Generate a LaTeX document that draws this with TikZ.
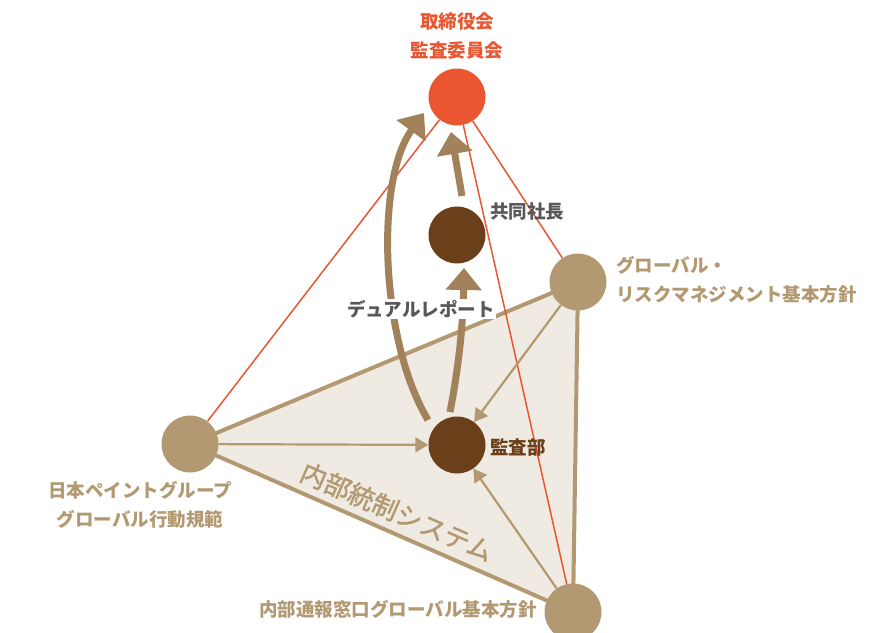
\documentclass[tikz,border=0pt]{standalone}
\usepackage{fontspec}
\setmainfont{Noto Sans CJK JP}
\newfontfamily\jpmed[FakeBold=1.5]{Noto Sans CJK JP}
\usetikzlibrary{arrows.meta,calc}
\definecolor{cred}{HTML}{EA5532}
\definecolor{cbrown}{HTML}{6B3F1A}
\definecolor{cbeige}{HTML}{B39972}
\definecolor{carrow}{HTML}{A2825A}
\definecolor{cfill}{HTML}{EFEAE2}
\definecolor{cgray}{HTML}{595757}
\begin{document}
\begin{tikzpicture}[x=1pt,y=-1pt,
  dot/.style={circle,minimum size=57pt,inner sep=0pt},
  lbl/.style={font=\bfseries\fontsize{18.5}{28.5}\selectfont,align=center,inner sep=0pt},
  redline/.style={cred,line width=1.5pt},
  edge/.style={cbeige,line width=4pt,line join=round},
  thin/.style={cbeige,line width=2.2pt,-{Triangle[width=15pt,length=13pt]}},
  thick/.style={carrow,line width=7pt,-{Triangle[width=35pt,length=22pt]}}]
\useasboundingbox (0,0) rectangle (894,632);
\clip (0,0) rectangle (894,632);
% node positions
\coordinate (pT) at (457,97);
\coordinate (pC) at (457,235);
\coordinate (pA) at (457,445);
\coordinate (pG) at (578,282);
\coordinate (pL) at (190,444);
\coordinate (pB) at (573,612);
% triangle
\fill[cfill] (pL) -- (pG) -- (pB) -- cycle;
\draw[edge] (pL) -- (pG) -- (pB) -- cycle;
% nodes (circles)
\node[dot] (top) at (pT) {};
\node[dot] (copres) at (pC) {};
\node[dot] (audit) at (pA) {};
\node[dot] (glob) at (pG) {};
\node[dot] (left) at (pL) {};
\node[dot] (bot) at (pB) {};
% red lines
\draw[redline] (top) -- (left);
\draw[redline] (top) -- (glob);
\draw[redline] (top) -- (bot);
% thin arrows
\draw[thin] (left) -- (audit);
\draw[thin] (glob) -- (audit);
\draw[thin] (bot) -- (audit);
% thick arrows
\coordinate (a1) at (428,420);
\coordinate (a2) at (424,113);
\coordinate (b1) at (450,412);
\coordinate (b2) at (464,268);
\coordinate (c1) at (462,196);
\coordinate (c2) at (451,132);
\draw[thick] (a1) .. controls (380,340) and (375,180) .. (a2);
\draw[thick] (b1) .. controls (460,360) and (463,320) .. (b2);
\draw[thick] (c1) -- (c2);
% circles on top
\fill[cred] (pT) circle (28.5);
\fill[cbrown] (pC) circle (28.5);
\fill[cbrown] (pA) circle (28.5);
\fill[cbeige] (pG) circle (28.5);
\fill[cbeige] (pL) circle (28.5);
\fill[cbeige] (pB) circle (28.5);
% labels
\node[lbl,text=cred] (tlab) at (457,36) {取締役会\\監査委員会};
\node[lbl,text=cgray,anchor=west] (clab) at (490,211) {共同社長};
\node[lbl,text=cgray,fill=white,inner sep=1pt] (dlab) at (421,309) {デュアルレポート};
\node[lbl,text=cbrown,anchor=west] (alab) at (490,447) {監査部};
\node[lbl,text=cbeige,anchor=west,align=left] (glab) at (616,280) {グローバル・\\リスクマネジメント基本方針};
\node[lbl,text=cbeige] (llab) at (140,505) {日本ペイントグループ\\グローバル行動規範};
\node[lbl,text=cbeige,anchor=east] (blab) at (537,609) {内部通報窓口グローバル基本方針};
\node[text=cbeige,font=\jpmed\fontsize{26}{30}\selectfont,rotate=-23.6,inner sep=0pt] (sys) at (397,512) {内部統制システム};
\end{tikzpicture}
\end{document}
